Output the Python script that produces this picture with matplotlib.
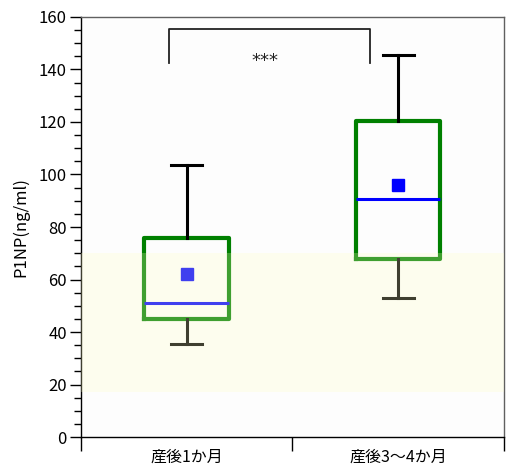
import matplotlib
matplotlib.use("Agg")
import matplotlib.pyplot as plt
from matplotlib.ticker import MultipleLocator

plt.rcParams["font.family"] = ["Noto Sans CJK JP", "DejaVu Sans"]

# 群ごとの要約統計 (ng/ml)
groups = ["産後1か月", "産後3～4か月"]
q1 = [45, 68]
median = [51, 90.5]
q3 = [76, 120.5]
whisker_low = [35.5, 53]
whisker_high = [103.5, 145.5]
mean = [62, 96]

# 基準範囲
ref_low, ref_high = 17, 70

# 有意差ブラケット
sig_x = [0.415, 1.365]
sig_y_low, sig_y_high = 142.5, 155.5
sig_label = "***"

positions = [0.5, 1.5]

fig = plt.figure(figsize=(5.08, 4.70), dpi=100)
ax = fig.add_axes([0.159, 0.070, 0.833, 0.894])

stats = []
for i, name in enumerate(groups):
    stats.append(dict(label=name, q1=q1[i], med=median[i], q3=q3[i],
                      whislo=whisker_low[i], whishi=whisker_high[i],
                      mean=mean[i], fliers=[]))

ax.bxp(stats, positions=positions, widths=0.40, capwidths=0.147,
       showmeans=True, showfliers=False, patch_artist=False,
       boxprops=dict(color="#008000", linewidth=3.0),
       whiskerprops=dict(color="black", linewidth=2.2),
       capprops=dict(color="black", linewidth=2.2),
       medianprops=dict(color="#0000ff", linewidth=2.2),
       meanprops=dict(marker="s", markerfacecolor="#0000ff",
                      markeredgecolor="#0000ff", markersize=8))

# 基準範囲の帯（箱の上に半透明で重ねる）
ax.axhspan(ref_low, ref_high, color="#ffffc3", alpha=0.25, lw=0, zorder=5)

# 有意差
ax.plot([sig_x[0], sig_x[0], sig_x[1], sig_x[1]],
        [sig_y_low, sig_y_high, sig_y_high, sig_y_low],
        color="#222222", lw=1.3, zorder=6)
ax.text(0.87, 143.2, sig_label, ha="center", va="center", fontsize=13,
        color="#222222", family="DejaVu Sans")

ax.set_xlim(0, 2)
ax.set_ylim(0, 160)
ax.set_facecolor("#fdfdfd")

ax.set_xticks([0, 1, 2])
ax.set_xticklabels([])
ax.set_xticks(positions, minor=True)
ax.set_xticklabels(groups, minor=True, fontsize=11.5)
ax.tick_params(axis="x", which="major", direction="out", length=10, width=1)
ax.tick_params(axis="x", which="minor", length=0, pad=8)

ax.yaxis.set_major_locator(MultipleLocator(20))
ax.yaxis.set_minor_locator(MultipleLocator(5))
ax.tick_params(axis="y", which="major", direction="out", length=8, width=1,
               labelsize=12, pad=2)
ax.tick_params(axis="y", which="minor", direction="out", length=5, width=1)

ax.set_ylabel("P1NP(ng/ml)", fontsize=12, labelpad=7)

for side in ["top", "right"]:
    ax.spines[side].set_color("#606060")
    ax.spines[side].set_linewidth(1.0)
for side in ["left", "bottom"]:
    ax.spines[side].set_color("black")
    ax.spines[side].set_linewidth(1.0)

fig.savefig("out.png", dpi=100)
